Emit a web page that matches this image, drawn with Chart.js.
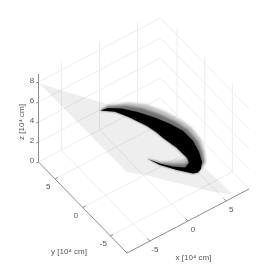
<!DOCTYPE html>
<html>
<head>
<meta charset="utf-8">
<style>
  html, body { margin: 0; padding: 0; background: #fff; }
  canvas { display: block; }
</style>
<script src="https://cdn.jsdelivr.net/npm/chart.js@4"></script>
</head>
<body>
<canvas id="chart" width="269" height="274"></canvas>
<script>
// Axis ticks, units of 10^4 cm
const xTicks = [-5, 0, 5];
const yTicks = [5, 0, -5];
const zTicks = [0, 2, 4, 6, 8];
const boxMin = -8, boxMax = 8, zTop = 8.8;

// Grey sheet the particles sit on, [x, y, z]
const sheet = [[-8.06, 7.83, 8], [1.35, 3.81, 3.65], [4.7, 1.73, 2], [5.17, -3.95, 0.95], [6.13, -7.69, 0],
  [3.68, -7.27, 1.03], [-3.4, -4.92, 4.2], [-5.46, -4.5, 5.08]];

// Particle band: shared head point, outer edges at three densities, underside and inner edges
const head = [[-2.82, 4.02, 5.34]];
const outerLight = [[-1.22, 4.78, 4.82], [1.65, 5.12, 3.73], [3.81, 4.85, 2.83], [5.68, 3.81, 1.93], [6.87, 2.56, 1.27],
  [7.48, 1.59, 0.87], [7.46, -0.07, 0.63], [6.78, -1.73, 0.64], [5.81, -3.25, 0.8]];
const outerMid = [[-1.37, 4.57, 4.84], [0.96, 4.71, 3.94], [2.93, 4.36, 3.1], [4.64, 3.46, 2.29], [5.98, 2.42, 1.6],
  [6.76, 1.32, 1.12], [6.86, -0.35, 0.82], [6.38, -1.73, 0.8], [5.64, -3.12, 0.88]];
const outerDense = [[-1.53, 4.36, 4.87], [0.26, 4.29, 4.15], [2.01, 3.81, 3.39], [3.69, 3.05, 2.6], [5, 2.15, 1.94],
  [6, 1.18, 1.4], [6.31, -0.21, 1.06], [5.99, -1.73, 0.96], [5.38, -3.12, 0.99], [4.54, -4.09, 1.17]];
const underside = [[3.8, -4.57, 1.39], [3.04, -4.71, 1.67], [1.3, -4.22, 2.44], [-0.43, -3.53, 3.23], [-1.48, -2.63, 3.79]];
const tailLight = [[-0.08, -3.05, 3.17], [1.67, -2.98, 2.48], [3.32, -2.7, 1.87], [3.92, -2.42, 1.67]];
const tailMid = [[-0.23, -3.25, 3.19], [1.38, -3.39, 2.53], [2.95, -3.39, 1.91], [3.71, -2.98, 1.67]];
const tailDense = [[-0.28, -3.32, 3.2], [1.12, -3.74, 2.58], [2.6, -3.88, 1.97], [3.58, -3.25, 1.68]];
const innerHead = [[3.82, -2.56, 1.69], [3.5, -1.18, 2.03], [2.68, 0.21, 2.57], [2.36, 1.04, 2.82], [1.78, 1.87, 3.18],
  [0.23, 3.16, 3.99], [-0.98, 3.85, 4.58]];

// View of the box, page units per data unit
function view(x, y, z) {
  return { x: 143.75 + 7.625 * x - 5.53 * y, y: 175.5 - 4 * x - 5.69 * y - 10 * z };
}
const toView = pts => pts.map(p => view(p[0], p[1], p[2]));
const gap = { x: NaN, y: NaN };

// Grid lines on the floor and the two back walls
const grid = [];
xTicks.forEach(t => {
  grid.push(view(t, boxMin, 0), view(t, boxMax, 0), view(t, boxMax, zTop), gap);
});
yTicks.forEach(t => {
  grid.push(view(boxMin, t, 0), view(boxMax, t, 0), view(boxMax, t, zTop), gap);
});
zTicks.forEach(t => {
  grid.push(view(boxMin, boxMax, t), view(boxMax, boxMax, t), view(boxMax, boxMin, t), gap);
});

// Axis lines and tick marks
const axes = [view(boxMin, boxMax, zTop), view(boxMin, boxMax, 0), view(boxMin, boxMin, 0), view(boxMax, boxMin, 0), gap];
xTicks.forEach(t => axes.push(view(t, boxMin, 0), view(t, boxMin + 0.45, 0), gap));
yTicks.forEach(t => axes.push(view(boxMin, t, 0), view(boxMin + 0.35, t, 0), gap));
zTicks.forEach(t => axes.push(view(boxMin, boxMax, t), view(boxMin - 0.3, boxMax, t), gap));

function lineSet(data, color, width) {
  return { data, borderColor: color, borderWidth: width, pointRadius: 0, showLine: true, fill: false };
}
function shapeSet(points, color, blur) {
  return { data: toView(points), borderColor: 'transparent', borderWidth: 0, backgroundColor: color,
    pointRadius: 0, showLine: true, fill: 'shape', blur };
}

const bandLight = [...head, ...outerLight, ...underside, ...tailLight, ...innerHead];
const bandMid = [...head, ...outerMid, ...underside, ...tailMid, ...innerHead];
const bandDense = [...head, ...outerDense, ...underside, ...tailDense, ...innerHead];

// Soft edges for the band. Has to be registered ahead of the filler plugin,
// which paints in the same hook
const softEdges = {
  id: 'softEdges',
  beforeDatasetDraw(chart, args) {
    const blur = chart.data.datasets[args.index].blur;
    chart.ctx.save();
    if (blur) chart.ctx.filter = `blur(${blur}px)`;
  },
  afterDatasetDraw(chart) {
    chart.ctx.restore();
  }
};
const filler = Chart.registry.plugins.get('filler');
Chart.unregister(filler);
Chart.register(softEdges, filler);

// Tick labels and axis titles go on as text after the marks
const textPlugin = {
  id: 'text3d',
  afterDraw(chart) {
    const ctx = chart.ctx;
    ctx.save();
    ctx.fillStyle = '#555';
    ctx.font = '8px "Liberation Sans"';
    ctx.textAlign = 'center';
    ctx.textBaseline = 'middle';
    xTicks.forEach(t => {
      const p = view(t, boxMin, 0);
      ctx.fillText(String(t), p.x + 5, p.y + 9);
    });
    yTicks.forEach(t => {
      const p = view(boxMin, t, 0);
      ctx.fillText(String(t), p.x - 7, p.y + 8);
    });
    zTicks.forEach(t => {
      const p = view(boxMin, boxMax, t);
      ctx.fillText(String(t), p.x - 6.5, p.y - 1.5);
    });
    ctx.fillText('x [10\u2074 cm]', 193.5, 258);
    ctx.fillText('y [10\u2074 cm]', 69, 252);
    ctx.translate(22, 122);
    ctx.rotate(-Math.PI / 2);
    ctx.fillText('z [10\u2074 cm]', 0, 0);
    ctx.restore();
  }
};

new Chart(document.getElementById('chart'), {
  type: 'scatter',
  data: {
    datasets: [
      lineSet(grid, '#ececec', 1),
      shapeSet(sheet, 'rgba(0,0,0,0.065)', 0),
      shapeSet(bandLight, '#c0c0c0', 1.2),
      shapeSet(bandMid, '#707070', 1),
      shapeSet(bandDense, '#000000', 0.6),
      lineSet(axes, '#8c8c8c', 1)
    ].map((d, i) => ({ ...d, order: 10 - i }))
  },
  options: {
    responsive: false,
    animation: false,
    layout: { padding: 0 },
    plugins: { legend: { display: false }, tooltip: { enabled: false } },
    scales: {
      x: { type: 'linear', display: false, min: 0, max: 269 },
      y: { type: 'linear', display: false, min: 0, max: 274, reverse: true }
    }
  },
  plugins: [textPlugin]
});
</script>
</body>
</html>
